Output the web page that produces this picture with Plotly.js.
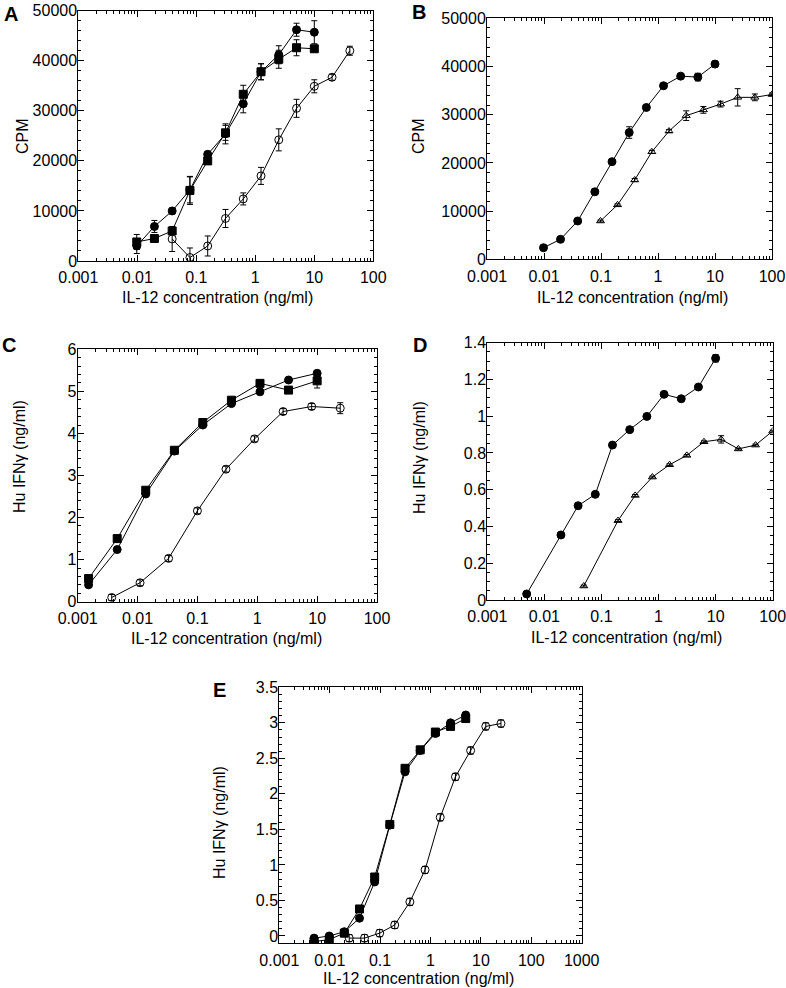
<!DOCTYPE html>
<html><head><meta charset="utf-8">
<script src="https://cdn.plot.ly/plotly-3.0.1.min.js"></script>
<style>html,body{margin:0;padding:0;background:#fff}#chart{width:786px;height:988px}</style>
</head><body><div id="chart"></div>
<script>
// ---------- data ----------
// Panel A (CPM)
const A_conc_filled = [0.0098, 0.0195, 0.039, 0.078, 0.156, 0.3125, 0.625, 1.25, 2.5, 5, 10];
const A_circle      = [3000, 6900, 10000, 14200, 21300, 25400, 31400, 37800, 41200, 46200, 45700];
const A_circle_err  = [1500, 1200, 600, 2600, 600, 2000, 1800, 1600, 1800, 1300, 2300];
const A_square      = [3800, 4500, 6000, 14100, 20000, 25600, 33300, 37800, 40300, 42600, 42400];
const A_square_err  = [1500, 500, 500, 2800, 600, 1500, 1800, 1600, 1800, 1600, 600];
const A_conc_open   = [0.039, 0.078, 0.156, 0.3125, 0.625, 1.25, 2.5, 5, 10, 20, 40];
const A_open        = [4400, 700, 3000, 8500, 12400, 17000, 24200, 30500, 34900, 36700, 42000];
const A_open_err    = [2500, 1900, 2000, 1800, 1200, 1700, 2200, 1800, 1300, 600, 900];
// Panel B (CPM)
const B_conc_circle = [0.0098, 0.0195, 0.039, 0.078, 0.156, 0.3125, 0.625, 1.25, 2.5, 5, 10];
const B_circle      = [2400, 4150, 7950, 14000, 20250, 26300, 31500, 36000, 38000, 37800, 40500];
const B_circle_err  = [300, 300, 300, 300, 300, 1200, 300, 300, 300, 800, 600];
const B_conc_tri    = [0.098, 0.195, 0.39, 0.78, 1.56, 3.125, 6.25, 12.5, 25, 50, 100];
const B_tri         = [7950, 11300, 16450, 22300, 26600, 29800, 31000, 32200, 33600, 33600, 34200];
const B_tri_err     = [200, 200, 300, 300, 300, 1000, 700, 600, 1800, 700, 300];
// Panel C (Hu IFNγ ng/ml)
const C_conc_filled = [0.00152, 0.00457, 0.0137, 0.0412, 0.123, 0.37, 1.11, 3.33, 10];
const C_circle      = [0.40, 1.24, 2.56, 3.58, 4.20, 4.71, 4.99, 5.27, 5.43];
const C_circle_err  = [0.03, 0.03, 0.03, 0.03, 0.03, 0.03, 0.03, 0.03, 0.03];
const C_square      = [0.55, 1.50, 2.65, 3.60, 4.26, 4.79, 5.19, 5.03, 5.25];
const C_square_err  = [0.03, 0.03, 0.03, 0.03, 0.03, 0.03, 0.03, 0.03, 0.17];
const C_conc_open   = [0.0037, 0.011, 0.033, 0.1, 0.3, 0.9, 2.7, 8.1, 24.3];
const C_open        = [0.10, 0.45, 1.03, 2.16, 3.15, 3.87, 4.52, 4.64, 4.60];
const C_open_err    = [0.07, 0.07, 0.07, 0.07, 0.07, 0.07, 0.07, 0.07, 0.13];
// Panel D (Hu IFNγ ng/ml)
const D_conc_circle = [0.0049, 0.0195, 0.039, 0.078, 0.156, 0.3125, 0.625, 1.25, 2.5, 5, 10];
const D_circle      = [0.033, 0.354, 0.513, 0.575, 0.843, 0.927, 0.999, 1.119, 1.095, 1.159, 1.315];
const D_circle_err  = [0.005, 0.005, 0.005, 0.005, 0.005, 0.005, 0.005, 0.005, 0.005, 0.005, 0.02];
const D_conc_tri    = [0.049, 0.195, 0.39, 0.78, 1.56, 3.125, 6.25, 12.5, 25, 50, 100];
const D_tri         = [0.076, 0.432, 0.569, 0.669, 0.736, 0.787, 0.861, 0.874, 0.822, 0.843, 0.919];
const D_tri_err     = [0.005, 0.005, 0.005, 0.005, 0.005, 0.005, 0.005, 0.02, 0.005, 0.005, 0.005];
// Panel E (Hu IFNγ ng/ml)
const E_conc_filled = [0.0049, 0.0098, 0.0195, 0.039, 0.078, 0.156, 0.3125, 0.625, 1.25, 2.5, 5];
const E_circle      = [-0.03, 0.0, 0.06, 0.25, 0.76, 1.56, 2.31, 2.61, 2.85, 3.0, 3.11];
const E_square      = [-0.08, -0.05, 0.04, 0.38, 0.83, 1.57, 2.36, 2.62, 2.87, 2.95, 3.06];
const E_conc_open   = [0.0244, 0.049, 0.098, 0.195, 0.39, 0.78, 1.56, 3.125, 6.25, 12.5, 25];
const E_open        = [-0.03, -0.03, 0.04, 0.155, 0.48, 0.93, 1.67, 2.24, 2.61, 2.95, 2.99];
const E_open_err    = [0.05, 0.05, 0.05, 0.05, 0.05, 0.05, 0.05, 0.05, 0.05, 0.05, 0.05];

// tick labels
const xTickVals5 = [0.001, 0.01, 0.1, 1, 10, 100];
const xTickText5 = ['0.001', '0.01', '0.1', '1', '10', '100'];
const xTickValsE = [0.001, 0.01, 0.1, 1, 10, 100, 1000];
const xTickTextE = ['0.001', '0.01', '0.1', '1', '10', '100', '1000'];
const xTitle = 'IL-12 concentration (ng/ml)';
const yTitleCPM = 'CPM';
const yTitleIFN = 'Hu IFNγ (ng/ml)';
const panelLetters = ['A', 'B', 'C', 'D', 'E'];

// ---------- layout helpers ----------
const W = 786, H = 988;
const FONT = 'Liberation Sans, Arial, Helvetica, sans-serif';
function dX(a, b) { return [a / W, b / W]; }
function dY(top, bottom) { return [1 - bottom / H, 1 - top / H]; }
function minorLog(lo, hi) {
  const v = [];
  for (let e = lo; e < hi; e++) for (let k = 2; k <= 9; k++) v.push(k * Math.pow(10, e));
  return v;
}

const panels = [
  {px: [78.3, 373.3], py: [10.7, 261],   xr: [-3, 2], yr: [0, 50000], dt: 10000, mdt: 2000, fmt: 'd', tv: xTickVals5, tt: xTickText5},
  {px: [487, 772],    py: [18.3, 259.3], xr: [-3, 2], yr: [0, 50000], dt: 10000, mdt: 2000, fmt: 'd', tv: xTickVals5, tt: xTickText5},
  {px: [77.7, 377],   py: [349.3, 601.7],xr: [-3, 2], yr: [0, 6],     dt: 1,     mdt: 0.2,  fmt: '', tv: xTickVals5, tt: xTickText5},
  {px: [487.3, 772.7],py: [342.7, 600],  xr: [-3, 2], yr: [0, 1.4],   dt: 0.2,   mdt: 0.05, fmt: '', tv: xTickVals5, tt: xTickText5},
  {px: [279.3, 581.7],py: [687.3, 943.3],xr: [-3, 3], yr: [-0.103, 3.5], dt: 0.5, mdt: 0.1, fmt: '', tv: xTickValsE, tt: xTickTextE}
];

const layout = {
  width: W, height: H,
  margin: {l: 0, r: 0, t: 0, b: 0},
  paper_bgcolor: '#fff', plot_bgcolor: '#fff',
  showlegend: false,
  font: {family: FONT, size: 16, color: '#000'},
  annotations: []
};

panels.forEach((p, i) => {
  const n = i === 0 ? '' : String(i + 1);
  layout['xaxis' + n] = {
    domain: dX(p.px[0], p.px[1]), anchor: 'y' + n, type: 'log', range: p.xr,
    tickmode: 'array', tickvals: p.tv, ticktext: p.tt,
    ticks: 'inside', ticklen: 6, tickwidth: 1, tickcolor: '#000',
    minor: {tickmode: 'array', tickvals: minorLog(p.xr[0], p.xr[1]), ticks: 'inside', ticklen: 3, tickwidth: 1, tickcolor: '#000', showgrid: false},
    showline: true, linecolor: '#000', linewidth: 1, mirror: 'ticks',
    showgrid: false, zeroline: false, fixedrange: true,
    ticklabelstandoff: 2, ticklabeloverflow: 'allow',
    tickfont: {family: FONT, size: 16, color: '#000'}
  };
  layout['yaxis' + n] = {
    domain: dY(p.py[0], p.py[1]), anchor: 'x' + n, range: p.yr,
    tickmode: 'linear', tick0: 0, dtick: p.dt, exponentformat: 'none', separatethousands: false,
    tickformat: p.fmt,
    ticks: 'inside', ticklen: 6, tickwidth: 1, tickcolor: '#000',
    minor: {dtick: p.mdt, tick0: 0, ticks: 'inside', ticklen: 3, tickwidth: 1, tickcolor: '#000', showgrid: false},
    showline: true, linecolor: '#000', linewidth: 1, mirror: 'ticks',
    showgrid: false, zeroline: false, fixedrange: true,
    ticklabelstandoff: -3,
    tickfont: {family: FONT, size: 16, color: '#000'}
  };
});

// annotations: panel letters, axis titles
const letterPos = [[11, 14], [419, 12], [9, 345], [420, 345], [219, 690]];
const yTitlePos = [[23, 136], [419, 136], [19, 457], [419, 458], [219, 823]];
const yTitles = [yTitleCPM, yTitleCPM, yTitleIFN, yTitleIFN, yTitleIFN];
const xTitlePos = [[217, 297], [632, 297], [226, 638], [626, 637], [418, 978]];
panels.forEach((p, i) => {
  layout.annotations.push({xref: 'paper', yref: 'paper', x: letterPos[i][0] / W, y: 1 - letterPos[i][1] / H,
    text: '<b>' + panelLetters[i] + '</b>', showarrow: false, xanchor: 'center', yanchor: 'middle',
    font: {family: FONT, size: 20, color: '#000'}});
  layout.annotations.push({xref: 'paper', yref: 'paper', x: yTitlePos[i][0] / W, y: 1 - yTitlePos[i][1] / H,
    text: yTitles[i], textangle: -90, showarrow: false, xanchor: 'center', yanchor: 'middle',
    font: {family: FONT, size: 16, color: '#000'}});
  layout.annotations.push({xref: 'paper', yref: 'paper', x: xTitlePos[i][0] / W, y: 1 - xTitlePos[i][1] / H,
    text: xTitle, showarrow: false, xanchor: 'center', yanchor: 'middle',
    font: {family: FONT, size: 16, color: '#000'}});
});

// ---------- traces ----------
function tr(ax, x, y, err, symbol, size) {
  return {
    type: 'scatter', mode: 'lines+markers', x: x, y: y,
    xaxis: 'x' + ax, yaxis: 'y' + ax,
    line: {color: '#000', width: 1},
    marker: {symbol: symbol, size: size, color: '#000', line: {color: '#000', width: 1}},
    error_y: err ? {type: 'data', array: err, visible: true, color: '#000', thickness: 1, width: 3} : {visible: false},
    hoverinfo: 'x+y', showlegend: false
  };
}
const data = [
  tr('', A_conc_open, A_open, A_open_err, 'circle-open', 8),
  tr('', A_conc_filled, A_square, A_square_err, 'square', 8),
  tr('', A_conc_filled, A_circle, A_circle_err, 'circle', 8),
  tr('2', B_conc_tri, B_tri, B_tri_err, 'triangle-up-open', 7),
  tr('2', B_conc_circle, B_circle, B_circle_err, 'circle', 8),
  tr('3', C_conc_open, C_open, C_open_err, 'circle-open', 8),
  tr('3', C_conc_filled, C_square, C_square_err, 'square', 8),
  tr('3', C_conc_filled, C_circle, C_circle_err, 'circle', 8),
  tr('4', D_conc_tri, D_tri, D_tri_err, 'triangle-up-open', 7),
  tr('4', D_conc_circle, D_circle, D_circle_err, 'circle', 8),
  tr('5', E_conc_open, E_open, E_open_err, 'circle-open', 8),
  tr('5', E_conc_filled, E_square, null, 'square', 8),
  tr('5', E_conc_filled, E_circle, null, 'circle', 8)
];

Plotly.newPlot('chart', data, layout, {staticPlot: true, displayModeBar: false});
</script>
</body></html>
